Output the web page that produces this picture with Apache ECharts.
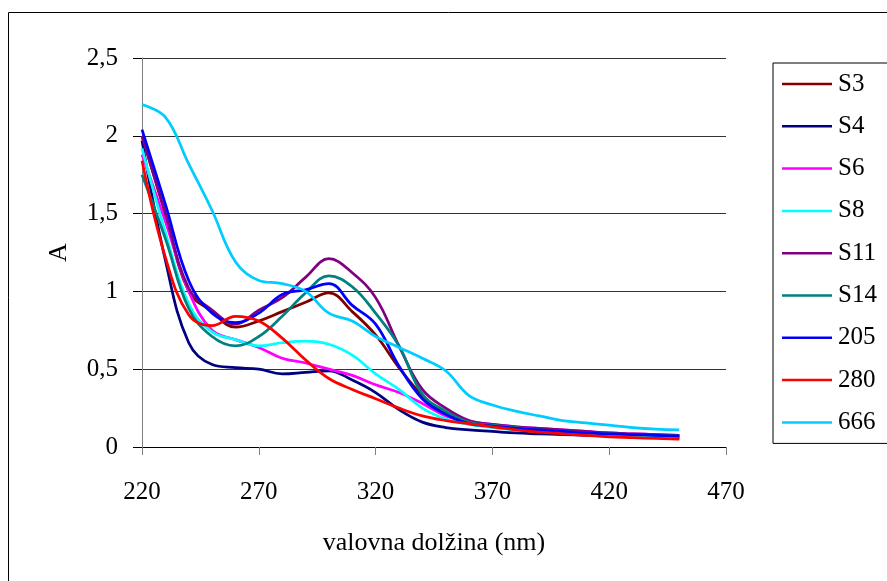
<!DOCTYPE html>
<html>
<head>
<meta charset="utf-8">
<script src="https://cdn.jsdelivr.net/npm/echarts@6/dist/echarts.min.js"></script>
<style>
  html, body { margin: 0; padding: 0; background: #fff; }
  #chart { width: 887px; height: 581px; }
</style>
</head>
<body>
<div id="chart"></div>
<script>
// valovna dolžina (nm)
var wavelengths = [220, 230, 240, 250, 260, 270, 280, 290, 300, 310, 320, 330,
                   340, 350, 360, 370, 380, 390, 400, 410, 420, 430, 440, 450];

var S3   = [2.00, 1.50, 1.00, 0.87, 0.77, 0.81, 0.87, 0.93, 0.99, 0.87, 0.72, 0.51, 0.33, 0.21, 0.15, 0.13, 0.115, 0.105, 0.095, 0.085, 0.08, 0.075, 0.07, 0.065];
var S4   = [1.97, 1.20, 0.67, 0.53, 0.51, 0.50, 0.47, 0.48, 0.49, 0.43, 0.35, 0.24, 0.16, 0.125, 0.11, 0.10, 0.09, 0.085, 0.08, 0.075, 0.07, 0.065, 0.06, 0.055];
var S6   = [1.88, 1.45, 1.00, 0.75, 0.69, 0.64, 0.57, 0.54, 0.50, 0.46, 0.40, 0.35, 0.28, 0.20, 0.165, 0.145, 0.13, 0.12, 0.11, 0.10, 0.09, 0.085, 0.08, 0.075];
var S8   = [1.92, 1.38, 0.92, 0.74, 0.69, 0.65, 0.67, 0.68, 0.66, 0.59, 0.47, 0.37, 0.25, 0.18, 0.145, 0.125, 0.11, 0.10, 0.09, 0.085, 0.08, 0.075, 0.07, 0.065];
var S11  = [2.00, 1.50, 1.02, 0.88, 0.79, 0.88, 0.96, 1.09, 1.21, 1.12, 0.96, 0.65, 0.37, 0.25, 0.17, 0.145, 0.13, 0.12, 0.11, 0.10, 0.09, 0.085, 0.08, 0.075];
var S14  = [1.75, 1.34, 0.89, 0.71, 0.65, 0.71, 0.84, 0.99, 1.10, 1.03, 0.86, 0.65, 0.34, 0.23, 0.16, 0.14, 0.125, 0.11, 0.10, 0.09, 0.085, 0.08, 0.075, 0.07];
var A205 = [2.04, 1.56, 1.07, 0.86, 0.80, 0.86, 0.98, 1.01, 1.05, 0.91, 0.79, 0.52, 0.31, 0.21, 0.15, 0.135, 0.12, 0.11, 0.10, 0.09, 0.085, 0.08, 0.075, 0.07];
var A280 = [1.84, 1.22, 0.85, 0.78, 0.84, 0.81, 0.70, 0.56, 0.44, 0.37, 0.31, 0.25, 0.20, 0.17, 0.15, 0.13, 0.11, 0.095, 0.085, 0.075, 0.065, 0.06, 0.055, 0.05];
var A666 = [2.20, 2.12, 1.82, 1.52, 1.19, 1.07, 1.05, 1.00, 0.86, 0.81, 0.71, 0.64, 0.57, 0.49, 0.33, 0.27, 0.23, 0.20, 0.17, 0.155, 0.14, 0.125, 0.115, 0.11];

var seriesNames  = ['S3', 'S4', 'S6', 'S8', 'S11', 'S14', '205', '280', '666'];
var seriesValues = [S3, S4, S6, S8, S11, S14, A205, A280, A666];
var seriesColors = ['#800000', '#000080', '#FF00FF', '#00FFFF', '#800080', '#008080', '#0000FF', '#FF0000', '#00CCFF'];

var FONT = 'Liberation Serif';

function pairs(ys) {
    return ys.map(function (y, i) { return [wavelengths[i], y]; });
}

var chart = echarts.init(document.getElementById('chart'), null, { renderer: 'canvas' });

var series = seriesNames.map(function (name, i) {
    return {
        name: name,
        type: 'line',
        data: pairs(seriesValues[i]),
        smooth: 0.4,
        symbol: 'none',
        lineStyle: { color: seriesColors[i], width: 2.75 },
        itemStyle: { color: seriesColors[i] }
    };
});

chart.setOption({
    animation: false,
    backgroundColor: '#fff',
    textStyle: { fontFamily: FONT },
    grid: { left: 142, right: 161, top: 58, bottom: 134 },
    xAxis: {
        type: 'value',
        min: 220, max: 470, interval: 50,
        name: 'valovna dolžina (nm)',
        nameLocation: 'middle',
        nameGap: 83,
        nameTextStyle: { fontFamily: FONT, fontSize: 26, color: '#000' },
        axisLine: { onZero: false, lineStyle: { color: '#000', width: 1 } },
        axisTick: { show: true, length: 8, lineStyle: { color: '#808080' } },
        axisLabel: { fontFamily: FONT, fontSize: 25, color: '#000', margin: 33 },
        splitLine: { show: false }
    },
    yAxis: {
        type: 'value',
        min: 0, max: 2.5, interval: 0.5,
        name: 'A',
        nameLocation: 'middle',
        nameGap: 70,
        nameTextStyle: { fontFamily: FONT, fontSize: 26, color: '#000' },
        axisLine: { show: true, lineStyle: { color: '#808080', width: 1 } },
        axisTick: { show: true, length: 9, lineStyle: { color: '#000' } },
        axisLabel: {
            fontFamily: FONT, fontSize: 25, color: '#000', margin: 24,
            formatter: function (v) { return String(v).replace('.', ','); }
        },
        splitLine: { show: true, lineStyle: { color: '#333', width: 1 } }
    },
    legend: {
        orient: 'vertical',
        left: 773, top: 63,
        data: seriesNames,
        icon: 'rect',
        itemWidth: 50, itemHeight: 2.5,
        itemGap: 12.3,
        padding: [6, 40, 6, 9],
        borderColor: '#000', borderWidth: 1,
        textStyle: { fontFamily: FONT, fontSize: 25, color: '#000', lineHeight: 30, padding: [0, 0, 0, 1] }
    },
    graphic: [{
        type: 'rect',
        shape: { x: 8.5, y: 12.5, width: 900, height: 600 },
        style: { fill: 'none', stroke: '#000', lineWidth: 1 },
        silent: true
    }],
    series: series
});
</script>
</body>
</html>
